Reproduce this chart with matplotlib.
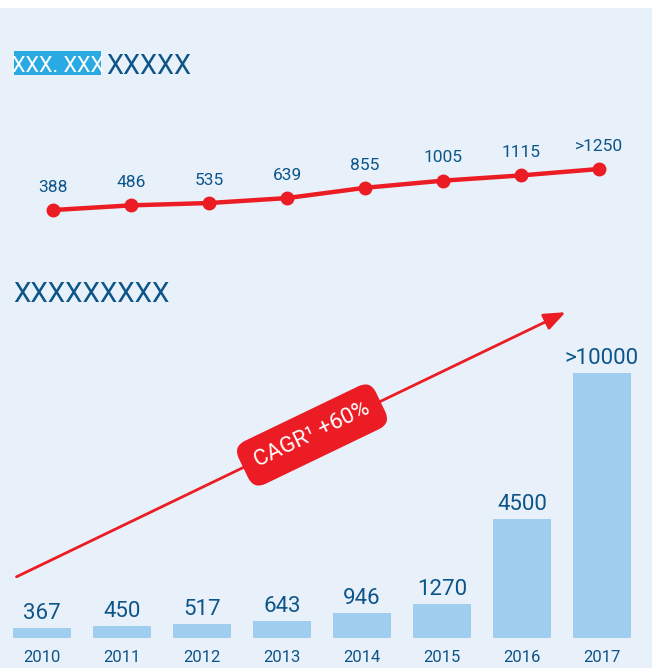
import matplotlib
matplotlib.use("Agg")
import matplotlib.pyplot as plt
from matplotlib.patches import Rectangle, FancyArrowPatch
from matplotlib import font_manager

# ---------------- data ----------------
years = ["2010", "2011", "2012", "2013", "2014", "2015", "2016", "2017"]
line_values = [388, 486, 535, 639, 855, 1005, 1115, 1250]
line_labels = ["388", "486", "535", "639", "855", "1005", "1115", ">1250"]
bar_values = [367, 450, 517, 643, 946, 1270, 4500, 10000]
bar_labels = ["367", "450", "517", "643", "946", "1270", "4500", ">10000"]
title_box = "XXX. XXX"
title_rest = "XXXXX"
subtitle = "XXXXXXXXX"
cagr_text = "CAGR\u00b9 +60%"

# ---------------- style ----------------
names = {f.name for f in font_manager.fontManager.ttflist}
FONT = [n for n in ["Liberation Sans Narrow", "DejaVu Sans Condensed", "Roboto", "DejaVu Sans"] if n in names]
plt.rcParams["font.family"] = FONT

BG = "#e8f1fa"
DARK = "#0d5589"
RED = "#ec1c24"
BAR = "#a0ceee"
BOXBLUE = "#29aae2"

W, H = 652, 668
fig = plt.figure(figsize=(W / 100, H / 100), dpi=100, facecolor=BG)

def fx(px):
    return px / W

def fy(py):
    return 1 - py / H

# white strip on top
fig.patches.append(Rectangle((0, fy(8)), 1, 8 / H, transform=fig.transFigure,
                             facecolor="white", edgecolor="none", zorder=0))

# ---------------- line chart ----------------
ax1 = fig.add_axes([0, fy(240), 1, 120 / H])
ax1.set_facecolor("none")
ax1.set_xlim(-53 / 78, (W - 53) / 78)
px_per_unit = 0.0476
ax1.set_ylim(-(240 - 228.5) / px_per_unit, (228.5 - 120) / px_per_unit)
xs = list(range(len(years)))
ax1.plot(xs, line_values, color=RED, lw=3.2, marker="o", ms=9, zorder=3,
         solid_capstyle="round")
for x, v, lab in zip(xs, line_values, line_labels):
    ax1.annotate(lab, (x, v), xytext=(0, 11), textcoords="offset points",
                 ha="center", va="bottom", fontsize=12.5, color=DARK)
ax1.axis("off")

# ---------------- bar chart ----------------
ax2 = fig.add_axes([0, fy(638), 1, 338 / H])
ax2.set_facecolor("none")
ax2.set_xlim(-42 / 80, (W - 42) / 80)
ax2.set_ylim(0, 338 / 0.0265)
ax2.bar(xs, bar_values, width=0.725, color=BAR, zorder=2)
for x, v, lab in zip(xs, bar_values, bar_labels):
    ax2.annotate(lab, (x, v), xytext=(0, 3), textcoords="offset points",
                 ha="center", va="bottom", fontsize=16, color=DARK)
for x, y in zip(xs, years):
    ax2.annotate(y, (x, 0), xytext=(0, -9), textcoords="offset points",
                 ha="center", va="top", fontsize=12, color=DARK,
                 annotation_clip=False)
ax2.axis("off")

# ---------------- titles ----------------
fig.patches.append(Rectangle((fx(14), fy(75)), 87 / W, 24 / H, transform=fig.transFigure,
                             facecolor=BOXBLUE, edgecolor="none", zorder=1))
fig.text(fx(57.5), fy(72), title_box, color="white", fontsize=15.5, ha="center",
         va="baseline", zorder=2)
fig.text(fx(106), fy(74), title_rest, color=DARK, fontsize=19.5, ha="left",
         va="baseline")
fig.text(fx(13), fy(302), subtitle, color=DARK, fontsize=20, ha="left",
         va="baseline")

# ---------------- CAGR arrow ----------------
arrow = FancyArrowPatch((fx(14), fy(578)), (fx(568), fy(311)),
                        transform=fig.transFigure,
                        arrowstyle="-|>,head_length=6.5,head_width=2.6",
                        color=RED, lw=2, mutation_scale=2, zorder=5)
fig.patches.append(arrow)
fig.text(fx(312), fy(435), cagr_text, color="white", fontsize=16,
         ha="center", va="center", rotation=25.7, rotation_mode="anchor",
         zorder=6,
         bbox=dict(boxstyle="round,pad=0.6,rounding_size=0.6", facecolor=RED,
                   edgecolor="none"))

fig.savefig("out.png", dpi=100, facecolor=BG)
